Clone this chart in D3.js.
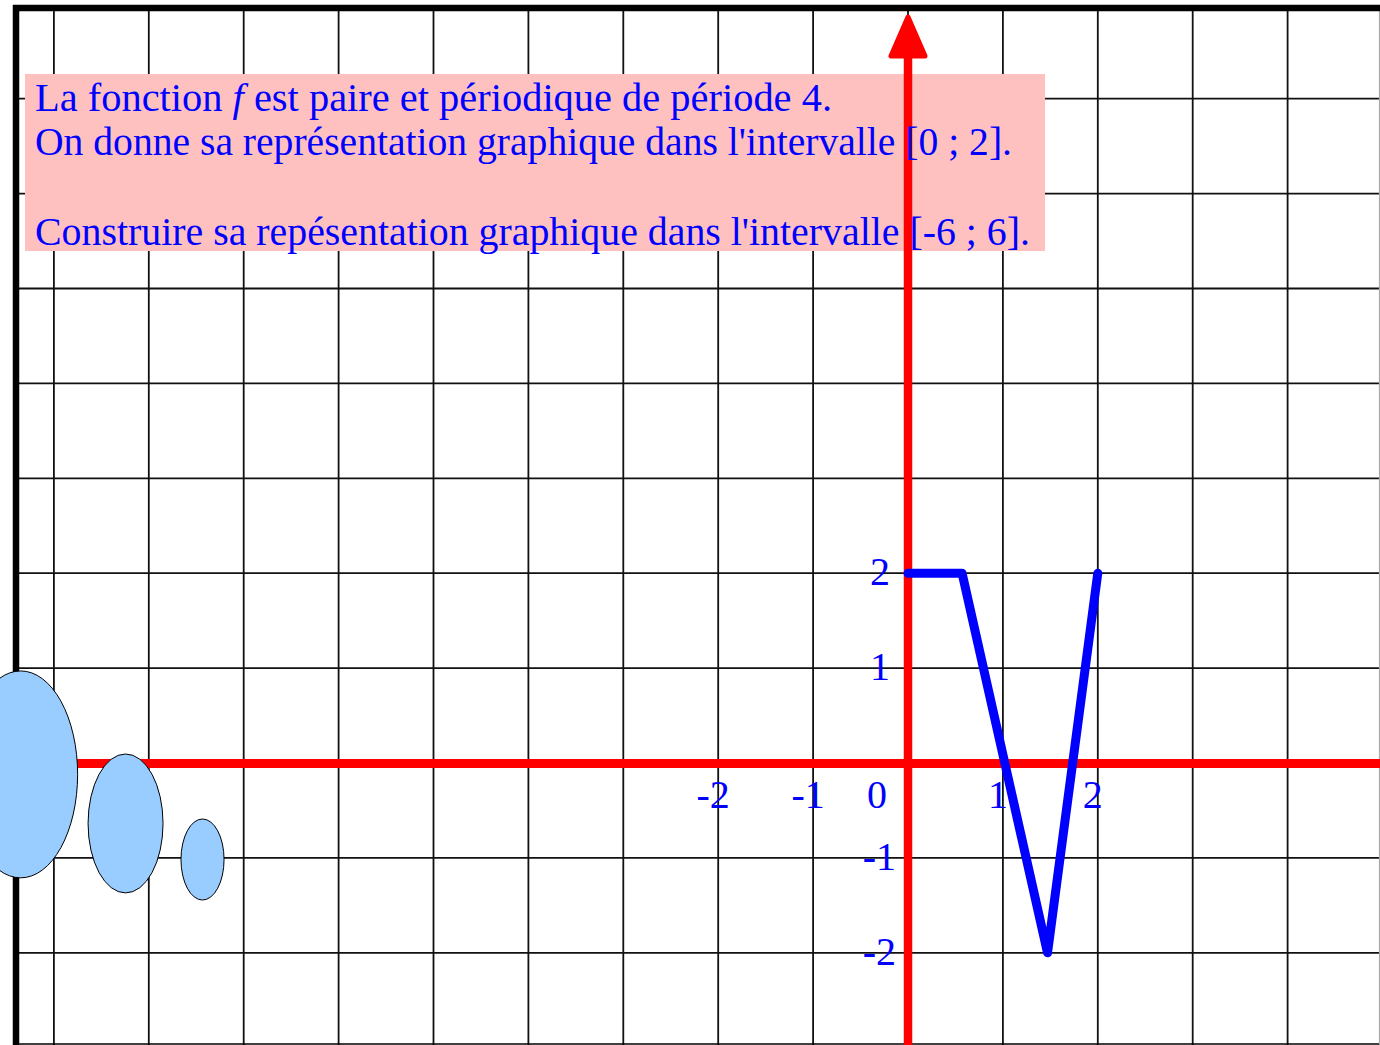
<!DOCTYPE html>
<html>
<head>
  <meta charset="utf-8">
  <script src="https://d3js.org/d3.v7.min.js"></script>
  <style>
    html, body { margin: 0; padding: 0; background: #fff; overflow: hidden; }
    svg { display: block; }
  </style>
</head>
<body>
<script>
  "use strict";

  // grid lines (in units)
  var gridX = [-9, -8, -7, -6, -5, -4, -3, -2, -1, 0, 1, 2, 3, 4, 5];
  var gridY = [-3, -2, -1, 0, 1, 2, 3, 4, 5, 6, 7];

  // tick labels
  var xTicks = [-2, -1, 1, 2];
  var yTicks = [-2, -1, 1, 2];

  // graph of f on [0 ; 2]
  var curveX = [0, 0.57, 1.47, 2];
  var curveY = [2, 2, -2, 2];

  // bubbles at the left (centre x, centre y, rx, ry in units)
  var bubbleCx = [-9.35, -8.245, -7.434];
  var bubbleCy = [-0.12, -0.637, -1.017];
  var bubbleRx = [0.60, 0.395, 0.227];
  var bubbleRy = [1.09, 0.732, 0.427];

  // note text
  var noteLines = [
    [{ t: "La fonction " }, { t: "f", it: true }, { t: " est paire et périodique de période 4." }],
    [{ t: "On donne sa représentation graphique dans l'intervalle [0 ; 2]." }],
    [{ t: "Construire sa repésentation graphique dans l'intervalle [-6 ; 6]." }]
  ];

  var width = 1380, height = 1045;
  var ox = 908, oy = 763, unit = 94.9;

  var x = d3.scaleLinear().domain([0, 1]).range([ox, ox + unit]);
  var y = d3.scaleLinear().domain([0, 1]).range([oy, oy - unit]);

  var svg = d3.select("body").append("svg")
      .attr("width", width)
      .attr("height", height);

  /*
    grid
  */
  svg.append("g").selectAll("line")
    .data(gridX)
    .enter().append("line")
      .attr("x1", function (d) { return x(d); })
      .attr("x2", function (d) { return x(d); })
      .attr("y1", 8)
      .attr("y2", height)
      .style("stroke", "#111")
      .style("stroke-width", 1.8);

  svg.append("g").selectAll("line")
    .data(gridY)
    .enter().append("line")
      .attr("x1", 16)
      .attr("x2", width)
      .attr("y1", function (d) { return y(d); })
      .attr("y2", function (d) { return y(d); })
      .style("stroke", "#111")
      .style("stroke-width", 1.8);

  // frame
  svg.append("line").attr("x1", 16).attr("x2", 1379.5).attr("y1", 1044).attr("y2", 1044)
    .style("stroke", "#000").style("stroke-width", 1.5);
  svg.append("line").attr("x1", 1379.5).attr("x2", 1379.5).attr("y1", 8).attr("y2", 1044)
    .style("stroke", "#aaa").style("stroke-width", 1.2);
  svg.append("line").attr("x1", 13).attr("x2", width).attr("y1", 8).attr("y2", 8)
    .style("stroke", "#000").style("stroke-width", 6.5);
  svg.append("line").attr("x1", 16).attr("x2", 16).attr("y1", 5).attr("y2", height)
    .style("stroke", "#000").style("stroke-width", 6.5);

  // pink note box
  svg.append("rect")
    .attr("x", 25)
    .attr("y", 74)
    .attr("width", 1020)
    .attr("height", 177)
    .style("fill", "#ffc0c0");

  /*
    axes
  */
  svg.append("line")
    .attr("x1", 16).attr("x2", width)
    .attr("y1", y(0) + 0.5).attr("y2", y(0) + 0.5)
    .style("stroke", "#ff0000")
    .style("stroke-width", 9);

  svg.append("line")
    .attr("x1", x(0)).attr("x2", x(0))
    .attr("y1", 50).attr("y2", height)
    .style("stroke", "#ff0000")
    .style("stroke-width", 8.5);

  // arrow head on the y axis
  svg.append("path")
    .attr("d", "M" + x(0) + ",17 L" + (x(0) - 17) + ",56 L" + (x(0) + 17) + ",56 Z")
    .style("fill", "#ff0000")
    .style("stroke", "#ff0000")
    .style("stroke-width", 5)
    .style("stroke-linejoin", "round");

  // note text
  var noteX = 35, noteBase = [111, 155, 245], noteLen = [797, 977, 995];
  var note = svg.append("g")
      .style("font-family", "'Liberation Serif', 'Times New Roman', serif")
      .style("font-size", "39px")
      .style("fill", "#0000ff");

  noteLines.forEach(function (line, i) {
    var t = note.append("text")
        .attr("x", noteX)
        .attr("y", noteBase[i])
        .attr("textLength", noteLen[i])
        .attr("lengthAdjust", "spacingAndGlyphs");
    line.forEach(function (part) {
      t.append("tspan")
        .style("font-style", part.it ? "italic" : "normal")
        .text(part.t);
    });
  });

  // tick labels
  var labels = svg.append("g")
      .style("font-family", "'Liberation Serif', 'Times New Roman', serif")
      .style("font-size", "40px")
      .style("fill", "#0000ff");

  labels.selectAll(".xt")
    .data(xTicks)
    .enter().append("text")
      .attr("class", "xt")
      .attr("x", function (d) { return x(d) - 5; })
      .attr("y", y(0) + 45)
      .attr("text-anchor", "middle")
      .text(function (d) { return d; });

  labels.append("text")
    .attr("x", x(0) - 31)
    .attr("y", y(0) + 45)
    .attr("text-anchor", "middle")
    .text("0");

  labels.selectAll(".yt")
    .data(yTicks)
    .enter().append("text")
      .attr("class", "yt")
      .attr("x", function (d) { return d < 0 ? x(0) - 12 : x(0) - 18; })
      .attr("y", function (d) { return y(d) + 12; })
      .attr("text-anchor", "end")
      .text(function (d) { return d; });

  // graph of f
  var line = d3.line()
      .x(function (d) { return x(curveX[d]); })
      .y(function (d) { return y(curveY[d]); });

  svg.append("path")
    .datum(d3.range(curveX.length))
    .attr("d", line)
    .style("fill", "none")
    .style("stroke", "#0000ff")
    .style("stroke-width", 9)
    .style("stroke-linejoin", "round")
    .style("stroke-linecap", "round");

  // bubbles
  svg.append("g").selectAll("ellipse")
    .data(d3.range(bubbleCx.length))
    .enter().append("ellipse")
      .attr("cx", function (i) { return x(bubbleCx[i]); })
      .attr("cy", function (i) { return y(bubbleCy[i]); })
      .attr("rx", function (i) { return x(bubbleRx[i]) - x(0); })
      .attr("ry", function (i) { return y(0) - y(bubbleRy[i]); })
      .style("fill", "#99ccff")
      .style("stroke", "#000")
      .style("stroke-width", 1);
</script>
</body>
</html>
